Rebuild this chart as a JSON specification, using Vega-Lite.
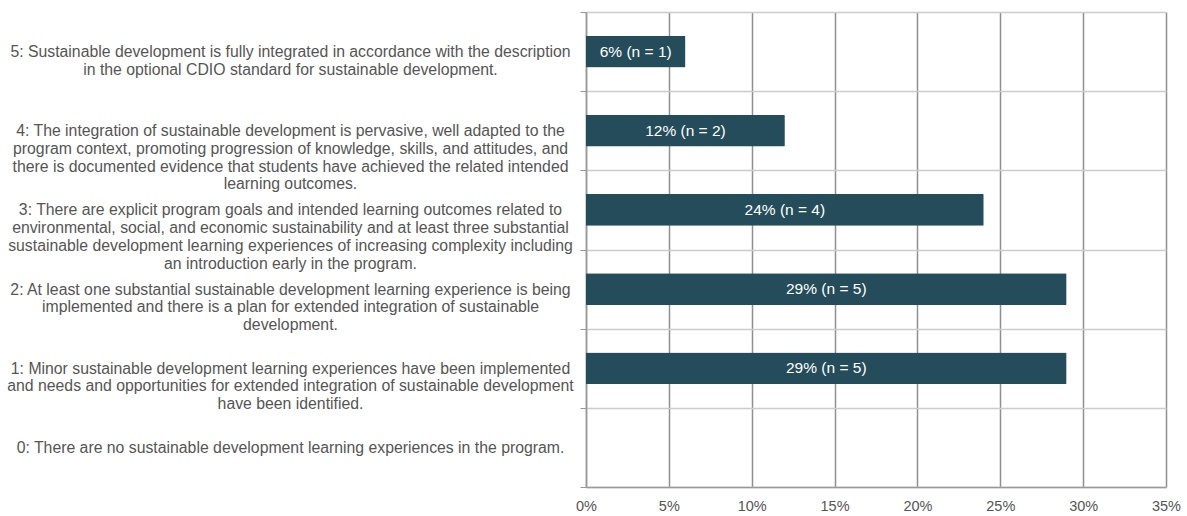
{
  "$schema": "https://vega.github.io/schema/vega-lite/v6.json",
  "autosize": "none",
  "width": 580,
  "height": 475,
  "padding": {"left": 586, "top": 12, "right": 21, "bottom": 29},
  "background": "white",
  "config": {
    "view": {"stroke": null},
    "font": "Liberation Sans"
  },
  "data": {
    "values": [
      {"level": "5", "label": "5: Sustainable development is fully integrated in accordance with the description|in the optional CDIO standard for sustainable development.", "pct": 6, "text": "6% (n = 1)"},
      {"level": "4", "label": "4: The integration of sustainable development is pervasive, well adapted to the|program context, promoting progression of knowledge, skills, and attitudes, and|there is documented evidence that students have achieved the related intended|learning outcomes.", "pct": 12, "text": "12% (n = 2)"},
      {"level": "3", "label": "3: There are explicit program goals and intended learning outcomes related to|environmental, social, and economic sustainability and at least three substantial|sustainable development learning experiences of increasing complexity including|an introduction early in the program.", "pct": 24, "text": "24% (n = 4)"},
      {"level": "2", "label": "2: At least one substantial sustainable development learning experience is being|implemented and there is a plan for extended integration of sustainable|development.", "pct": 29, "text": "29% (n = 5)"},
      {"level": "1", "label": "1: Minor sustainable development learning experiences have been implemented|and needs and opportunities for extended integration of sustainable development|have been identified.", "pct": 29, "text": "29% (n = 5)"},
      {"level": "0", "label": "0: There are no sustainable development learning experiences in the program.", "pct": 0, "text": ""}
    ]
  },
  "encoding": {
    "y": {
      "field": "label",
      "type": "nominal",
      "sort": null,
      "title": null,
      "scale": {"paddingInner": 0, "paddingOuter": 0},
      "axis": {
        "labelExpr": "datum.index == 1 ? '\u2002\u2002\u2002\u2002' + datum.label : split(datum.label, '|')",
        "labelAlign": "center",
        "labelBaseline": "middle",
        "labelPadding": 290,
        "labelLimit": 700,
        "labelFontSize": 15.8,
        "labelColor": "#555555",
        "labelLineHeight": 17.7,
        "tickBand": "extent",
        "tickColor": "#999999",
        "tickSize": 6,
        "domainColor": "#999999",
        "domainWidth": 1.5,
        "grid": true,
        "gridColor": "#cccccc",
        "gridWidth": 1.5,
        "zindex": 0
      }
    }
  },
  "layer": [
    {
      "mark": {"type": "bar", "color": "#244c5a", "height": {"band": 0.4}, "cornerRadiusEnd": 1},
      "encoding": {
        "x": {
          "field": "pct",
          "type": "quantitative",
          "title": null,
          "scale": {"domain": [0, 35], "nice": false},
          "axis": {
            "values": [0, 5, 10, 15, 20, 25, 30, 35],
            "labelExpr": "datum.value + '%'",
            "labelFontSize": 14.5,
            "labelColor": "#555555",
            "labelPadding": 12,
            "labelFlush": false,
            "ticks": false,
            "domainColor": "#999999",
            "domainWidth": 1.5,
            "grid": true,
            "gridColor": "#8f8f8f",
            "gridWidth": 1.5,
            "zindex": 0
          }
        }
      }
    },
    {
      "transform": [{"calculate": "datum.pct / 2", "as": "mid"}],
      "mark": {"type": "text", "color": "white", "fontSize": 15.5, "fontWeight": 500, "baseline": "middle", "align": "center"},
      "encoding": {
        "x": {"field": "mid", "type": "quantitative"},
        "text": {"field": "text"}
      }
    }
  ]
}
